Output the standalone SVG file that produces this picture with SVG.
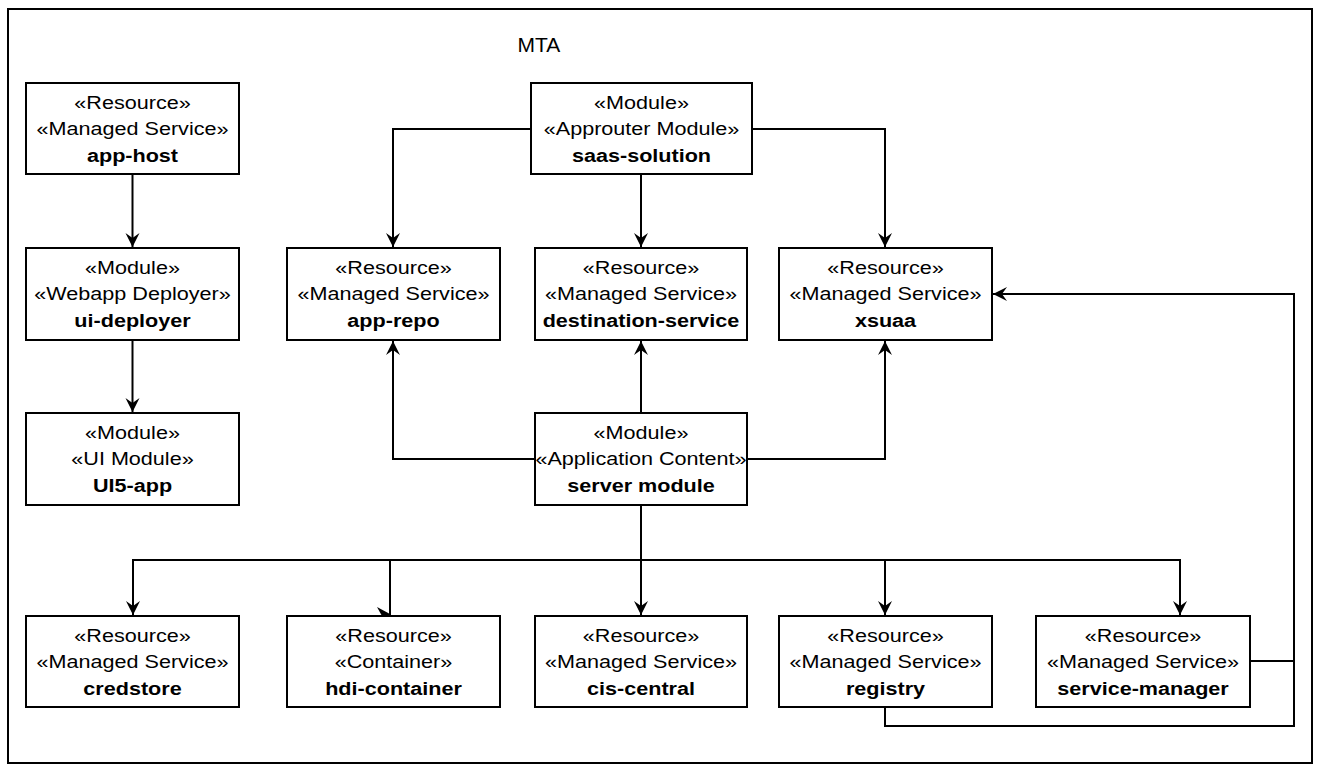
<svg xmlns="http://www.w3.org/2000/svg" width="1322" height="773" viewBox="0 0 1322 773">
<style>
.box{fill:#ffffff;stroke:#000000;stroke-width:2}
.frame{fill:#ffffff;stroke:#000000;stroke-width:2}
.t{font-family:"Liberation Sans",Arial,Helvetica,sans-serif;font-size:17.5px;fill:#000000;text-anchor:middle}
.b{font-weight:bold}
.mta{font-family:"Liberation Sans",Arial,Helvetica,sans-serif;font-size:21px;fill:#000000;text-anchor:middle}
.c{fill:none;stroke:#000000;stroke-width:2}
</style>
<defs>
<marker id="arr" markerUnits="userSpaceOnUse" viewBox="-15 -8 16 16" markerWidth="16" markerHeight="16" refX="0" refY="0" orient="auto">
<path d="M0,0 L-14,-7 L-9,0 L-14,7 Z" fill="#000000"/>
</marker>
</defs>
<rect class="frame" x="8" y="9" width="1304" height="754"/>
<text class="mta" x="539" y="52">MTA</text>

<g id="connectors">
<path class="c" d="M132.5,174 V247" marker-end="url(#arr)"/>
<path class="c" d="M132.5,340 V412" marker-end="url(#arr)"/>
<path class="c" d="M531,129 H393 V247" marker-end="url(#arr)"/>
<path class="c" d="M641,174 V247" marker-end="url(#arr)"/>
<path class="c" d="M752,129 H885 V247" marker-end="url(#arr)"/>
<path class="c" d="M641,413 V341" marker-end="url(#arr)"/>
<path class="c" d="M535,459 H393 V341" marker-end="url(#arr)"/>
<path class="c" d="M747,459 H885 V341" marker-end="url(#arr)"/>
<path class="c" d="M641,505 V615" marker-end="url(#arr)"/>
<path class="c" d="M641,560 H133 V615" marker-end="url(#arr)"/>
<path class="c" d="M641,560 H390 V616"/>
<polygon points="377,607 390,614 390,616 382,616" fill="#000000"/>
<path class="c" d="M641,560 H885 V615" marker-end="url(#arr)"/>
<path class="c" d="M641,560 H1180 V615" marker-end="url(#arr)"/>
<path class="c" d="M1250,661 H1294 V294 H993" marker-end="url(#arr)"/>
<path class="c" d="M885,707 V726 H1294 V661"/>
</g>

<g id="app-host">
<rect class="box" x="26" y="83" width="213" height="91"/>
<text class="t" transform="translate(132.5,109) scale(1.234,1)">«Resource»</text>
<text class="t" transform="translate(132.5,135) scale(1.234,1)">«Managed Service»</text>
<text class="t b" transform="translate(132.5,162) scale(1.234,1)">app-host</text>
</g>
<g id="saas-solution">
<rect class="box" x="531" y="83" width="221" height="91"/>
<text class="t" transform="translate(641.5,109) scale(1.234,1)">«Module»</text>
<text class="t" transform="translate(641.5,135) scale(1.234,1)">«Approuter Module»</text>
<text class="t b" transform="translate(641.5,162) scale(1.234,1)">saas-solution</text>
</g>
<g id="ui-deployer">
<rect class="box" x="26" y="248" width="213" height="92"/>
<text class="t" transform="translate(132.5,274) scale(1.234,1)">«Module»</text>
<text class="t" transform="translate(132.5,300) scale(1.234,1)">«Webapp Deployer»</text>
<text class="t b" transform="translate(132.5,327) scale(1.234,1)">ui-deployer</text>
</g>
<g id="app-repo">
<rect class="box" x="287" y="248" width="213" height="92"/>
<text class="t" transform="translate(393.5,274) scale(1.234,1)">«Resource»</text>
<text class="t" transform="translate(393.5,300) scale(1.234,1)">«Managed Service»</text>
<text class="t b" transform="translate(393.5,327) scale(1.234,1)">app-repo</text>
</g>
<g id="destination-service">
<rect class="box" x="535" y="248" width="212" height="92"/>
<text class="t" transform="translate(641,274) scale(1.234,1)">«Resource»</text>
<text class="t" transform="translate(641,300) scale(1.234,1)">«Managed Service»</text>
<text class="t b" transform="translate(641,327) scale(1.234,1)">destination-service</text>
</g>
<g id="xsuaa">
<rect class="box" x="779" y="248" width="213" height="92"/>
<text class="t" transform="translate(885.5,274) scale(1.234,1)">«Resource»</text>
<text class="t" transform="translate(885.5,300) scale(1.234,1)">«Managed Service»</text>
<text class="t b" transform="translate(885.5,327) scale(1.234,1)">xsuaa</text>
</g>
<g id="ui5-app">
<rect class="box" x="26" y="413" width="213" height="92"/>
<text class="t" transform="translate(132.5,439) scale(1.234,1)">«Module»</text>
<text class="t" transform="translate(132.5,465) scale(1.234,1)">«UI Module»</text>
<text class="t b" transform="translate(132.5,492) scale(1.234,1)">UI5-app</text>
</g>
<g id="server-module">
<rect class="box" x="535" y="413" width="212" height="92"/>
<text class="t" transform="translate(641,439) scale(1.234,1)">«Module»</text>
<text class="t" transform="translate(641,465) scale(1.234,1)">«Application Content»</text>
<text class="t b" transform="translate(641,492) scale(1.234,1)">server module</text>
</g>
<g id="credstore">
<rect class="box" x="26" y="616" width="213" height="91"/>
<text class="t" transform="translate(132.5,642) scale(1.234,1)">«Resource»</text>
<text class="t" transform="translate(132.5,668) scale(1.234,1)">«Managed Service»</text>
<text class="t b" transform="translate(132.5,695) scale(1.234,1)">credstore</text>
</g>
<g id="hdi-container">
<rect class="box" x="287" y="616" width="213" height="91"/>
<text class="t" transform="translate(393.5,642) scale(1.234,1)">«Resource»</text>
<text class="t" transform="translate(393.5,668) scale(1.234,1)">«Container»</text>
<text class="t b" transform="translate(393.5,695) scale(1.234,1)">hdi-container</text>
</g>
<g id="cis-central">
<rect class="box" x="535" y="616" width="212" height="91"/>
<text class="t" transform="translate(641,642) scale(1.234,1)">«Resource»</text>
<text class="t" transform="translate(641,668) scale(1.234,1)">«Managed Service»</text>
<text class="t b" transform="translate(641,695) scale(1.234,1)">cis-central</text>
</g>
<g id="registry">
<rect class="box" x="779" y="616" width="213" height="91"/>
<text class="t" transform="translate(885.5,642) scale(1.234,1)">«Resource»</text>
<text class="t" transform="translate(885.5,668) scale(1.234,1)">«Managed Service»</text>
<text class="t b" transform="translate(885.5,695) scale(1.234,1)">registry</text>
</g>
<g id="service-manager">
<rect class="box" x="1036" y="616" width="214" height="91"/>
<text class="t" transform="translate(1143,642) scale(1.234,1)">«Resource»</text>
<text class="t" transform="translate(1143,668) scale(1.234,1)">«Managed Service»</text>
<text class="t b" transform="translate(1143,695) scale(1.234,1)">service-manager</text>
</g>
</svg>
